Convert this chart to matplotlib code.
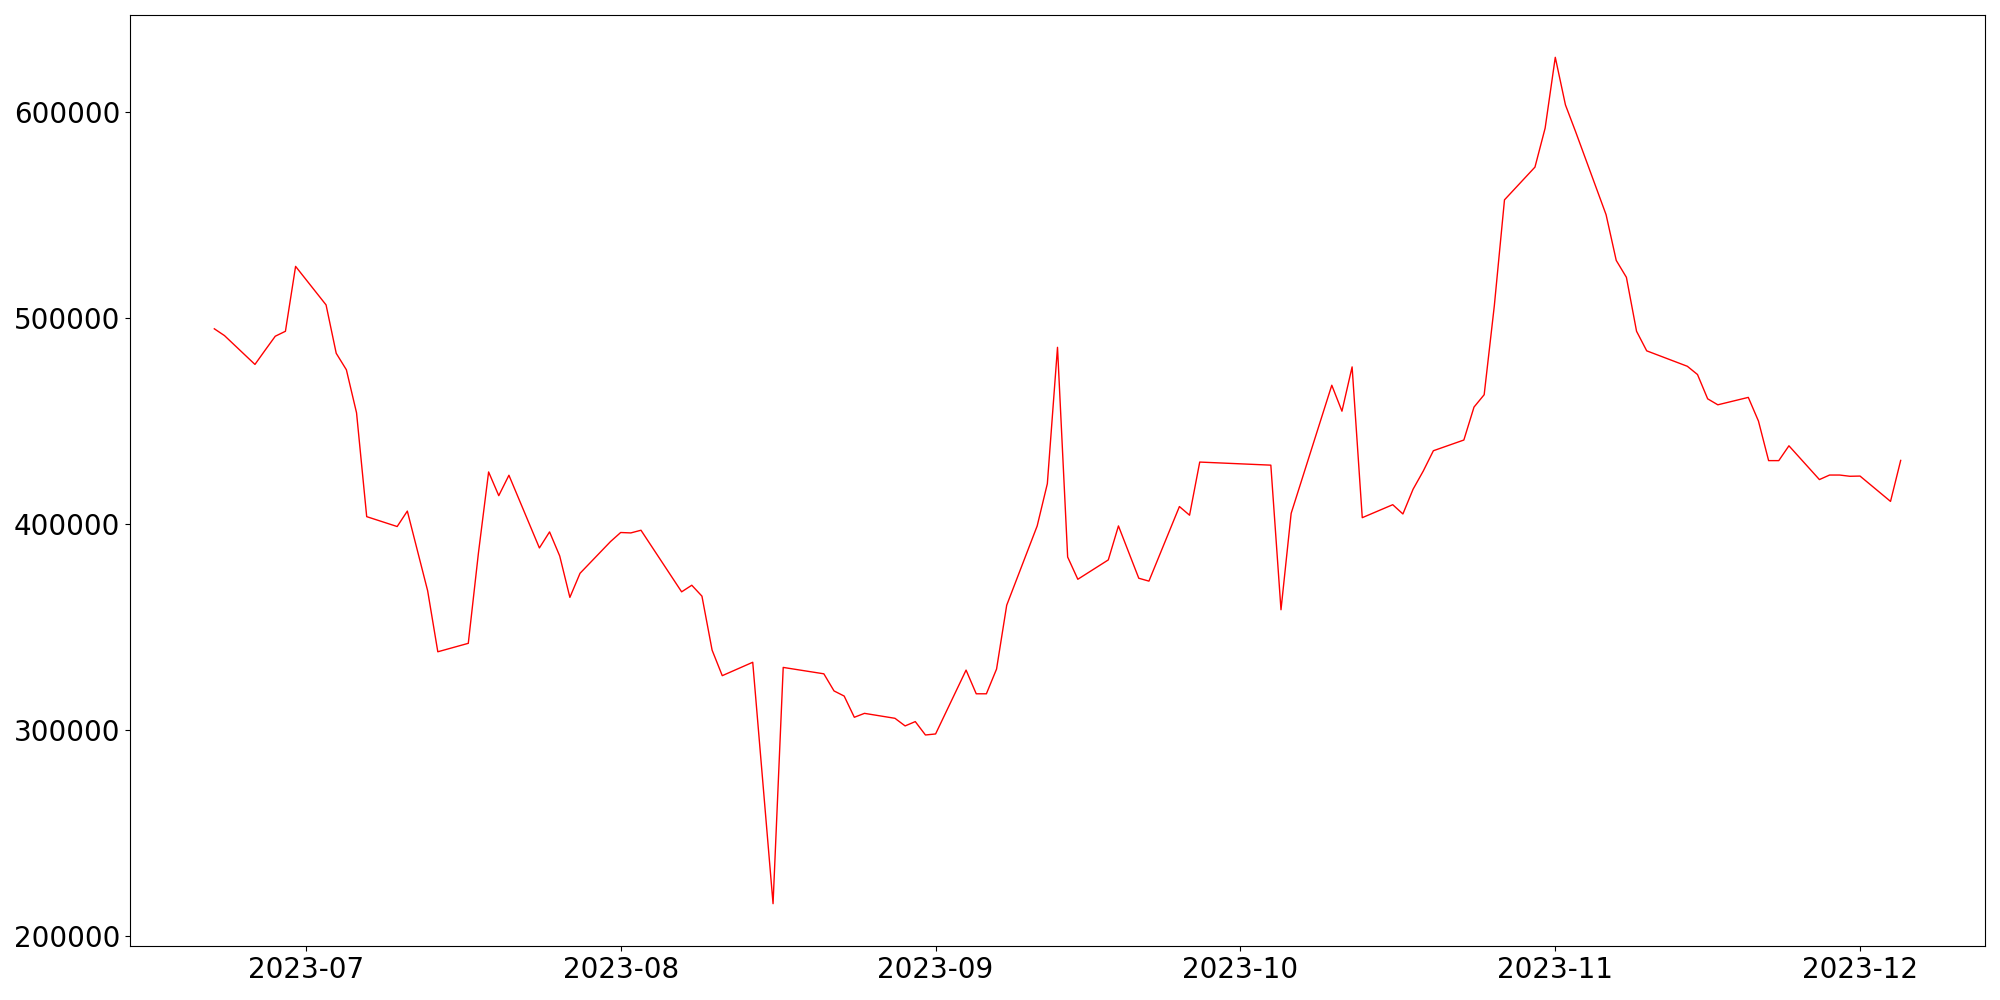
import numpy as np
import pandas as pd
import matplotlib
matplotlib.use("Agg")
import matplotlib.pyplot as plt
import matplotlib.dates as mdates

# trading days and values
dates = [
    "2023-06-22", "2023-06-23", "2023-06-26", "2023-06-27", "2023-06-28", "2023-06-29", "2023-06-30",
    "2023-07-03", "2023-07-04", "2023-07-05", "2023-07-06", "2023-07-07",
    "2023-07-10", "2023-07-11", "2023-07-13", "2023-07-14",
    "2023-07-17", "2023-07-18", "2023-07-19", "2023-07-20", "2023-07-21",
    "2023-07-24", "2023-07-25", "2023-07-26", "2023-07-27", "2023-07-28",
    "2023-07-31", "2023-08-01", "2023-08-02", "2023-08-03",
    "2023-08-07", "2023-08-08", "2023-08-09", "2023-08-10", "2023-08-11",
    "2023-08-14", "2023-08-16", "2023-08-17",
    "2023-08-21", "2023-08-22", "2023-08-23", "2023-08-24", "2023-08-25",
    "2023-08-28", "2023-08-29", "2023-08-30", "2023-08-31", "2023-09-01",
    "2023-09-04", "2023-09-05", "2023-09-06", "2023-09-07", "2023-09-08",
    "2023-09-11", "2023-09-12", "2023-09-13", "2023-09-14", "2023-09-15",
    "2023-09-18", "2023-09-19", "2023-09-21", "2023-09-22",
    "2023-09-25", "2023-09-26", "2023-09-27",
    "2023-10-04", "2023-10-05", "2023-10-06",
    "2023-10-10", "2023-10-11", "2023-10-12", "2023-10-13",
    "2023-10-16", "2023-10-17", "2023-10-18", "2023-10-19", "2023-10-20",
    "2023-10-23", "2023-10-24", "2023-10-25", "2023-10-26", "2023-10-27",
    "2023-10-30", "2023-10-31", "2023-11-01", "2023-11-02", "2023-11-03",
    "2023-11-06", "2023-11-07", "2023-11-08", "2023-11-09", "2023-11-10",
    "2023-11-14", "2023-11-15", "2023-11-16", "2023-11-17",
    "2023-11-20", "2023-11-21", "2023-11-22", "2023-11-23", "2023-11-24",
    "2023-11-27", "2023-11-28", "2023-11-29", "2023-11-30", "2023-12-01",
    "2023-12-04", "2023-12-05",
]

values = [
    494800, 491500, 477500, 484400, 491200, 493600, 525100,
    506400, 482900, 474900, 454000, 403600,
    398800, 406300, 367600, 338000,
    342100, 386000, 425300, 413800, 423700,
    388400, 396200, 384500, 364400, 376100,
    391500, 395900, 395700, 397000,
    367100, 370300, 365000, 338800, 326400,
    332900, 215700, 330400,
    327300, 319000, 316500, 306200, 308100,
    305700, 302000, 304100, 297600, 298100,
    329100, 317600, 317600, 329600, 360600,
    399100, 419600, 485800, 384000, 373200,
    382600, 399100, 373700, 372300,
    408500, 404300, 430100,
    428600, 358400, 405200,
    467400, 454800, 476300, 403100,
    409400, 404900, 416900, 425700, 435600,
    440800, 456800, 462800, 506000, 557400,
    573300, 592200, 626600, 603500, 590500,
    550200, 528000, 519800, 493600, 484100,
    476600, 472600, 460800, 457900,
    461500, 450000, 430800, 430800, 438000,
    421600, 423800, 423800, 423200, 423300,
    411000, 430900,
]

x = pd.to_datetime(dates)
y = np.array(values)

fig, ax = plt.subplots(figsize=(20, 10), dpi=100)
ax.plot(x, y, color="red", linewidth=1)

ax.xaxis.set_major_locator(mdates.MonthLocator())
ax.xaxis.set_major_formatter(mdates.DateFormatter("%Y-%m"))
ax.tick_params(axis="both", labelsize=20)

plt.subplots_adjust(left=0.065, right=0.9925, bottom=0.054, top=0.985)
plt.savefig("out.png")
